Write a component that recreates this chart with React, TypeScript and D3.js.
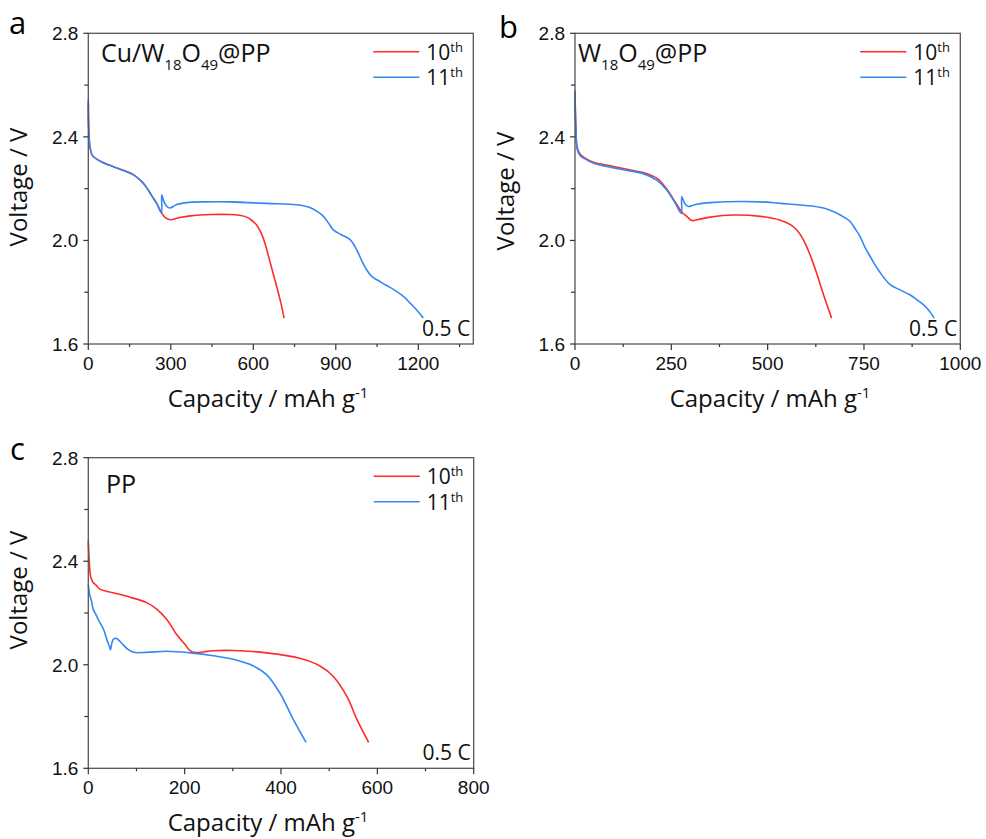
import React from "react";
import * as d3 from "d3";

// ---------- data (capacity mAh/g, voltage V) ----------
const a10: [number, number][] = [[0,2.53],[2,2.42],[6,2.36],[12,2.335],[18,2.324],[50,2.303],[91,2.285],[130,2.27],[164,2.254],[194,2.228],[212,2.205],[230,2.174],[249,2.143],[267,2.106],[280,2.088],[297,2.080],[330,2.088],[370,2.095],[450,2.100],[515,2.100],[550,2.097],[576,2.090],[595,2.077],[612,2.06],[628,2.03],[642,1.99],[660,1.92],[685,1.822],[700,1.76],[712,1.70]];
const a11: [number, number][] = [[0,2.545],[2,2.42],[6,2.363],[12,2.335],[18,2.324],[50,2.302],[91,2.285],[130,2.269],[164,2.253],[194,2.227],[212,2.204],[230,2.173],[249,2.142],[266,2.106],[267,2.176],[275,2.15],[285,2.132],[297,2.125],[320,2.138],[358,2.146],[420,2.149],[515,2.149],[650,2.143],[758,2.138],[806,2.127],[835,2.11],[855,2.093],[875,2.065],[891,2.041],[920,2.022],[952,2.003],[976,1.964],[995,1.92],[1012,1.887],[1030,1.862],[1049,1.848],[1085,1.826],[1121,1.803],[1150,1.78],[1170,1.758],[1195,1.73],[1218,1.70]];

const b10: [number, number][] = [[0,2.57],[2,2.45],[6,2.357],[14,2.332],[22,2.322],[50,2.301],[82,2.291],[125,2.278],[177,2.262],[200,2.25],[215,2.238],[238,2.199],[260,2.149],[277,2.110],[290,2.093],[303,2.077],[320,2.081],[351,2.090],[411,2.098],[481,2.093],[533,2.078],[560,2.06],[575,2.041],[590,2.01],[601,1.977],[615,1.925],[627,1.874],[645,1.79],[666,1.700]];
const b11: [number, number][] = [[0,2.58],[2,2.45],[6,2.35],[14,2.326],[22,2.318],[50,2.297],[82,2.286],[125,2.273],[177,2.258],[212,2.233],[238,2.195],[260,2.144],[276,2.104],[277,2.169],[285,2.143],[294,2.131],[310,2.138],[351,2.146],[481,2.149],[533,2.143],[600,2.135],[645,2.125],[679,2.106],[700,2.088],[714,2.073],[727,2.045],[740,2.015],[752,1.975],[766,1.938],[790,1.88],[818,1.829],[845,1.808],[869,1.790],[888,1.77],[904,1.752],[918,1.73],[932,1.70]];

const c10: [number, number][] = [[0,2.48],[2,2.40],[5,2.34],[10,2.318],[17,2.306],[24,2.292],[52,2.278],[87,2.261],[121,2.24],[142,2.215],[163,2.175],[183,2.118],[200,2.08],[211,2.055],[222,2.047],[240,2.05],[259,2.054],[301,2.055],[370,2.046],[439,2.025],[481,1.995],[509,1.954],[537,1.877],[558,1.787],[582,1.70]];
const c11: [number, number][] = [[0,2.31],[3,2.27],[7,2.244],[10,2.215],[17,2.19],[21,2.173],[31,2.14],[38,2.10],[44,2.07],[46,2.058],[49,2.085],[52,2.098],[58,2.102],[66,2.09],[73,2.076],[82,2.06],[94,2.048],[121,2.048],[163,2.052],[211,2.046],[260,2.035],[301,2.021],[343,1.995],[370,1.962],[398,1.89],[426,1.787],[452,1.70]];

const yTicks = [1.6, 2.0, 2.4, 2.8];
const yMinor = [1.8, 2.2, 2.6];
const aTicks = [0, 300, 600, 900, 1200];
const aMinor = [150, 450, 750, 1050, 1350];
const bTicks = [0, 250, 500, 750, 1000];
const bMinor = [125, 375, 625, 875];
const cTicks = [0, 200, 400, 600, 800];
const cMinor = [100, 300, 500, 700];
const legendLabels = ["10", "11"];

const RED = "#ff2a2a";
const BLUE = "#3388f5";
const TITLE_FONT = "'Open Sans', 'Noto Sans', sans-serif";
const TICK_FONT = "'Liberation Sans', Arial, sans-serif";

type PanelProps = {
  letter: string;
  letterX: number;
  letterY: number;
  left: number;
  right: number;
  top: number;
  bottom: number;
  xMax: number;
  xTicks: number[];
  xMinor: number[];
  s10: [number, number][];
  s11: [number, number][];
  sample: React.ReactNode;
  sampleX: number;
  sampleY: number;
  xLabelX: number;
  yLabelY: number;
};

function Panel(p: PanelProps) {
  const x = d3.scaleLinear().domain([0, p.xMax]).range([p.left, p.right]);
  const y = d3.scaleLinear().domain([1.6, 2.8]).range([p.bottom, p.top]);
  const line = d3
    .line<[number, number]>()
    .x((d) => x(d[0]))
    .y((d) => y(d[1]))
    .curve(d3.curveCatmullRom.alpha(0.5));
  const axisColor = "#333";
  const legX1 = p.right - 100;
  const legX2 = p.right - 54;
  return (
    <g>
      <text x={p.letterX} y={p.letterY} fontFamily={TITLE_FONT} fontSize={31} fill="#000">
        {p.letter}
      </text>
      <path d={line(p.s10) || ""} fill="none" stroke={RED} strokeWidth={1.6} />
      <path d={line(p.s11) || ""} fill="none" stroke={BLUE} strokeWidth={1.6} />
      <rect
        x={p.left}
        y={p.top}
        width={p.right - p.left}
        height={p.bottom - p.top}
        fill="none"
        stroke="#555"
        strokeWidth={1.3}
      />
      {yTicks.map((t) => (
        <g key={"y" + t}>
          <line x1={p.left - 5} x2={p.left} y1={y(t)} y2={y(t)} stroke={axisColor} strokeWidth={1.2} />
          <text
            x={p.left - 10}
            y={y(t)}
            dy="0.36em"
            textAnchor="end"
            fontFamily={TICK_FONT}
            fontSize={19}
            fill="#111"
          >
            {d3.format(".1f")(t)}
          </text>
        </g>
      ))}
      {yMinor.map((t) => (
        <line key={"ym" + t} x1={p.left - 4} x2={p.left} y1={y(t)} y2={y(t)} stroke={axisColor} strokeWidth={1.2} />
      ))}
      {p.xTicks.map((t) => (
        <g key={"x" + t}>
          <line x1={x(t)} x2={x(t)} y1={p.bottom} y2={p.bottom + 6} stroke={axisColor} strokeWidth={1.2} />
          <text
            x={x(t)}
            y={p.bottom + 26}
            textAnchor="middle"
            fontFamily={TICK_FONT}
            fontSize={19}
            fill="#111"
          >
            {t}
          </text>
        </g>
      ))}
      {p.xMinor.map((t) => (
        <line key={"xm" + t} x1={x(t)} x2={x(t)} y1={p.bottom} y2={p.bottom + 3} stroke={axisColor} strokeWidth={1.2} />
      ))}
      <text x={p.xLabelX} y={p.bottom + 63} textAnchor="middle" fontFamily={TITLE_FONT} fontSize={24} fill="#111">
        Capacity / mAh g
        <tspan dy={-9} fontSize={15}>-1</tspan>
      </text>
      <text
        transform={`translate(${p.left - 61},${p.yLabelY}) rotate(-90)`}
        textAnchor="middle"
        fontFamily={TITLE_FONT}
        fontSize={24}
        fill="#111"
      >
        Voltage / V
      </text>
      <text x={p.sampleX} y={p.sampleY} fontFamily={TITLE_FONT} fontSize={25} fill="#111">
        {p.sample}
      </text>
      {[RED, BLUE].map((c, i) => (
        <g key={"leg" + i}>
          <line x1={legX1} x2={legX2} y1={p.top + 18.5 + i * 25.5} y2={p.top + 18.5 + i * 25.5} stroke={c} strokeWidth={1.6} />
          <text x={legX2 + 7} y={p.top + 26.5 + i * 25.5} fontFamily={TITLE_FONT} fontSize={21} fill="#111">
            {legendLabels[i]}
            <tspan dy={-8} fontSize={13}>th</tspan>
          </text>
        </g>
      ))}
      <text x={p.right - 3} y={p.bottom - 8} textAnchor="end" fontFamily={TITLE_FONT} fontSize={21} fill="#111">
        0.5 C
      </text>
    </g>
  );
}

const sub = (s: string) => (
  <tspan dy={8} fontSize={15}>
    {s}
  </tspan>
);

export default function App() {
  return (
    <svg
      width={986}
      height={839}
      style={{ position: "absolute", left: 0, top: 0, background: "#fff" }}
    >
      <rect width={986} height={839} fill="#fff" />
      <Panel
        letter="a"
        letterX={9}
        letterY={34}
        left={88.3}
        right={473.3}
        top={33.3}
        bottom={344}
        xMax={1400}
        xTicks={aTicks}
        xMinor={aMinor}
        s10={a10}
        s11={a11}
        sample={
          <>
            Cu/W{sub("18")}
            <tspan dy={-8} fontSize={25}>O</tspan>
            {sub("49")}
            <tspan dy={-8} fontSize={25}>@PP</tspan>
          </>
        }
        sampleX={101}
        sampleY={61.5}
        xLabelX={268}
        yLabelY={187}
      />
      <Panel
        letter="b"
        letterX={499}
        letterY={38}
        left={575}
        right={960.3}
        top={33.3}
        bottom={344}
        xMax={1000}
        xTicks={bTicks}
        xMinor={bMinor}
        s10={b10}
        s11={b11}
        sample={
          <>
            W{sub("18")}
            <tspan dy={-8} fontSize={25}>O</tspan>
            {sub("49")}
            <tspan dy={-8} fontSize={25}>@PP</tspan>
          </>
        }
        sampleX={578}
        sampleY={61.5}
        xLabelX={770}
        yLabelY={191}
      />
      <Panel
        letter="c"
        letterX={10}
        letterY={460}
        left={88.3}
        right={473.7}
        top={457.7}
        bottom={768.3}
        xMax={800}
        xTicks={cTicks}
        xMinor={cMinor}
        s10={c10}
        s11={c11}
        sample={<>PP</>}
        sampleX={106}
        sampleY={492.5}
        xLabelX={268}
        yLabelY={590}
      />
    </svg>
  );
}
